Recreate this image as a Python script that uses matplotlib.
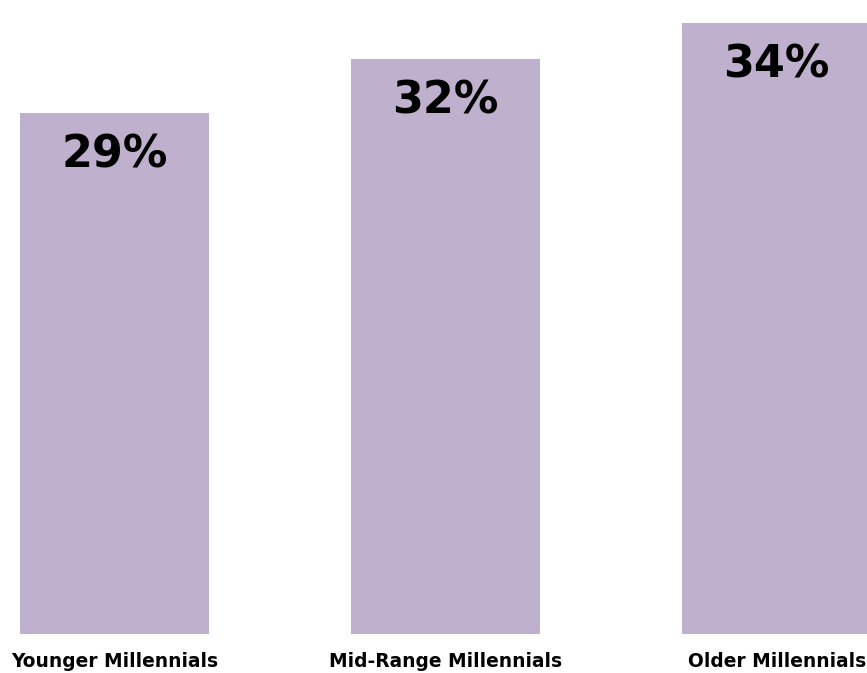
import matplotlib
matplotlib.use("Agg")
import matplotlib.pyplot as plt

# Share by millennial age group
groups = ["Younger Millennials", "Mid-Range Millennials", "Older Millennials"]
shares = [29, 32, 34]
labels = ["29%", "32%", "34%"]

fig = plt.figure(figsize=(8.67, 6.73), dpi=100)
ax = fig.add_axes([0, 0, 1, 1])

x = range(len(groups))
ax.bar(x, shares, width=0.571, color="#BFB0CE")

for xi, val, lab in zip(x, shares, labels):
    ax.text(xi, val - 2.35, lab, ha="center", va="center",
            fontsize=32, fontweight="heavy", color="black")
    ax.text(xi, -1.55, groups[xi], ha="center", va="center",
            fontsize=13.4, fontweight="heavy", color="black")

ax.set_xlim(-0.346, 2.273)
ax.set_ylim(-2.17, 35.28)
ax.axis("off")

fig.savefig("out.png", dpi=100, facecolor="white")
plt.close(fig)
